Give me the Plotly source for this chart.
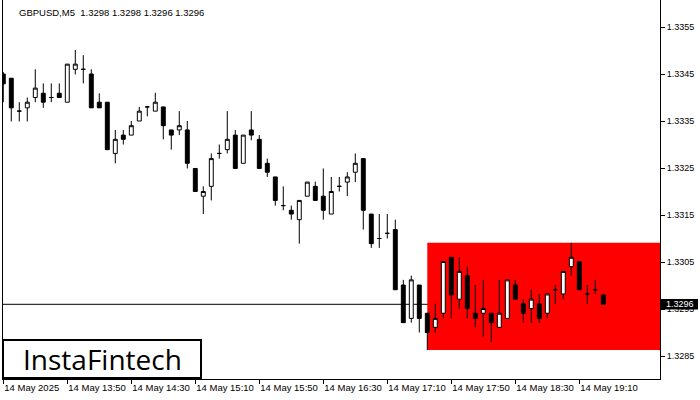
import plotly.graph_objects as go
import pandas as pd

symbol_title = "GBPUSD,M5  1.3298 1.3298 1.3296 1.3296"
start_time = "2025-05-14 13:10"

opens = [1.33450, 1.33441, 1.33371, 1.33378, 1.33400, 1.33409, 1.33400, 1.33409, 1.33390, 1.33460,
         1.33460, 1.33450, 1.33390, 1.33390, 1.33281, 1.33320, 1.33320, 1.33350, 1.33380, 1.33371,
         1.33380, 1.33331, 1.33331, 1.33331, 1.33249, 1.33190, 1.33211, 1.33281, 1.33289, 1.33320,
         1.33260, 1.33331, 1.33311, 1.33260, 1.33231, 1.33170, 1.33160, 1.33140, 1.33190, 1.33211,
         1.33190, 1.33152, 1.33211, 1.33220, 1.33241, 1.33270, 1.33152, 1.33100, 1.33111, 1.33119,
         1.33001, 1.32930, 1.33001, 1.32941, 1.32911, 1.32941, 1.33060, 1.32971, 1.33021, 1.32941,
         1.32941, 1.32941, 1.32911, 1.32930, 1.33001, 1.32961, 1.32951, 1.32961, 1.32941, 1.32991,
         1.32982, 1.33040, 1.33051, 1.32982, 1.32991, 1.32980]
highs = [1.33454, 1.33441, 1.33390, 1.33400, 1.33460, 1.33430, 1.33430, 1.33430, 1.33471, 1.33501,
         1.33490, 1.33460, 1.33409, 1.33390, 1.33331, 1.33331, 1.33350, 1.33380, 1.33380, 1.33410,
         1.33380, 1.33331, 1.33371, 1.33350, 1.33249, 1.33211, 1.33281, 1.33300, 1.33371, 1.33331,
         1.33320, 1.33371, 1.33320, 1.33270, 1.33231, 1.33211, 1.33170, 1.33181, 1.33220, 1.33221,
         1.33249, 1.33231, 1.33231, 1.33241, 1.33281, 1.33270, 1.33152, 1.33152, 1.33152, 1.33140,
         1.33012, 1.33021, 1.33001, 1.32941, 1.32961, 1.33051, 1.33060, 1.33060, 1.33040, 1.33001,
         1.33012, 1.32941, 1.33012, 1.33012, 1.33012, 1.32971, 1.32991, 1.32982, 1.32982, 1.33001,
         1.33030, 1.33091, 1.33051, 1.33001, 1.33012, 1.32980]
lows = [1.33390, 1.33349, 1.33349, 1.33349, 1.33390, 1.33378, 1.33390, 1.33400, 1.33390, 1.33449,
        1.33430, 1.33378, 1.33378, 1.33289, 1.33260, 1.33300, 1.33320, 1.33350, 1.33360, 1.33371,
        1.33311, 1.33289, 1.33320, 1.33249, 1.33200, 1.33152, 1.33181, 1.33270, 1.33281, 1.33249,
        1.33260, 1.33309, 1.33249, 1.33231, 1.33170, 1.33160, 1.33140, 1.33089, 1.33190, 1.33181,
        1.33140, 1.33152, 1.33200, 1.33190, 1.33220, 1.33119, 1.33080, 1.33080, 1.33100, 1.32991,
        1.32921, 1.32921, 1.32900, 1.32863, 1.32900, 1.32930, 1.32930, 1.32950, 1.32930, 1.32911,
        1.32891, 1.32880, 1.32911, 1.32930, 1.32971, 1.32921, 1.32921, 1.32921, 1.32930, 1.32961,
        1.32971, 1.33021, 1.32991, 1.32961, 1.32982, 1.32960]
closes = [1.33429, 1.33378, 1.33371, 1.33390, 1.33420, 1.33390, 1.33400, 1.33400, 1.33471, 1.33471,
          1.33460, 1.33378, 1.33378, 1.33289, 1.33311, 1.33311, 1.33340, 1.33371, 1.33380, 1.33390,
          1.33340, 1.33320, 1.33340, 1.33260, 1.33200, 1.33200, 1.33270, 1.33281, 1.33311, 1.33249,
          1.33320, 1.33320, 1.33249, 1.33241, 1.33181, 1.33170, 1.33152, 1.33181, 1.33220, 1.33181,
          1.33160, 1.33200, 1.33211, 1.33231, 1.33260, 1.33160, 1.33089, 1.33100, 1.33111, 1.32991,
          1.32921, 1.33012, 1.32930, 1.32900, 1.32930, 1.33051, 1.32980, 1.33030, 1.32951, 1.32930,
          1.32951, 1.32921, 1.32941, 1.33012, 1.32971, 1.32941, 1.32971, 1.32930, 1.32982, 1.32991,
          1.33030, 1.33060, 1.32991, 1.32982, 1.32991, 1.32960]

current_price = 1.3296
zone_start_bar = 53
zone_top = 1.33091
zone_bottom = 1.32863

y_ticks = [1.3285, 1.3295, 1.3305, 1.3315, 1.3325, 1.3335, 1.3345, 1.3355]
x_tick_times = ["2025-05-14 13:10", "2025-05-14 13:50", "2025-05-14 14:30", "2025-05-14 15:10",
                "2025-05-14 15:50", "2025-05-14 16:30", "2025-05-14 17:10", "2025-05-14 17:50",
                "2025-05-14 18:30", "2025-05-14 19:10"]
x_tick_text = ["14 May 2025", "14 May 13:50", "14 May 14:30", "14 May 15:10", "14 May 15:50",
               "14 May 16:30", "14 May 17:10", "14 May 17:50", "14 May 18:30", "14 May 19:10"]

times = pd.date_range(start_time, periods=len(opens), freq="5min")

W, H = 700, 400
ML, MR, MT, MB = 3, 40, 0, 21
PW, PH = W - ML - MR, H - MT - MB
FONT = "Liberation Sans"

fig = go.Figure()
fig.add_trace(go.Candlestick(
    x=times, open=opens, high=highs, low=lows, close=closes,
    increasing=dict(fillcolor="white", line=dict(color="black", width=1)),
    decreasing=dict(fillcolor="black", line=dict(color="black", width=1)),
    whiskerwidth=0, showlegend=False, hoverinfo="skip",
))

x_left = pd.Timestamp(start_time) - pd.Timedelta(seconds=11)
x_right = x_left + pd.Timedelta(minutes=PW / 1.6)

def px_x(px):
    return (px - ML) / PW

def px_y(py):
    return (H - MB - py) / PH

shapes = [
    dict(type="rect", xref="x", yref="y", x0=times[zone_start_bar], x1=x_right,
         y0=zone_bottom, y1=zone_top, fillcolor="#ff0000", line=dict(width=0), layer="below"),
    dict(type="line", xref="paper", yref="y", x0=0, x1=1, y0=current_price, y1=current_price,
         line=dict(color="black", width=1), layer="below"),
    dict(type="rect", xref="paper", yref="paper", x0=px_x(3), x1=px_x(201), y0=px_y(378), y1=px_y(340),
         fillcolor="white", line=dict(color="black", width=2), layer="above"),
    dict(type="rect", xref="paper", yref="y", x0=1.0, x1=px_x(698), y0=current_price - 0.000112,
         y1=current_price + 0.000112, fillcolor="black", line=dict(width=0), layer="above"),
]

annotations = [
    dict(text=symbol_title, xref="paper", yref="paper", x=px_x(17), y=px_y(5), xanchor="left",
         yanchor="top", showarrow=False, font=dict(family=FONT, size=9.5, color="black")),
    dict(text="InstaFintech", xref="paper", yref="paper", x=px_x(102), y=px_y(359), xanchor="center",
         yanchor="middle", showarrow=False, font=dict(family="Open Sans", size=28, color="black")),
    dict(text=f"{current_price:.4f}", xref="paper", yref="y", x=px_x(664), y=current_price,
         xanchor="left", yanchor="middle", showarrow=False, font=dict(family=FONT, size=9, color="white")),
]

fig.update_layout(
    width=W, height=H, margin=dict(l=ML, r=MR, t=MT, b=MB, autoexpand=False),
    paper_bgcolor="white", plot_bgcolor="white",
    shapes=shapes, annotations=annotations,
    xaxis=dict(range=[x_left, x_right], rangeslider=dict(visible=False), showgrid=False, zeroline=False,
               tickmode="array", tickvals=pd.to_datetime(x_tick_times), ticktext=x_tick_text,
               ticks="outside", ticklen=4, tickcolor="black", ticklabelposition="outside right",
               tickangle=0, automargin=False,
               showline=True, linecolor="black", linewidth=1, mirror=False,
               tickfont=dict(family=FONT, size=9.5, color="black")),
    yaxis=dict(range=[1.3355 - (379 - 27) / 47000, 1.3355 + 27 / 47000], side="right", showgrid=False,
               zeroline=False, tickmode="array", tickvals=y_ticks, ticktext=[f"{v:.4f}" for v in y_ticks],
               ticks="outside", ticklen=4, tickcolor="black", showline=True, linecolor="black",
               linewidth=1, mirror=True, automargin=False, tickfont=dict(family=FONT, size=9, color="black")),
)

fig.write_html("out.html", config={"displayModeBar": False},
               post_script="document.body.style.margin='0';document.body.style.overflow='hidden';")
